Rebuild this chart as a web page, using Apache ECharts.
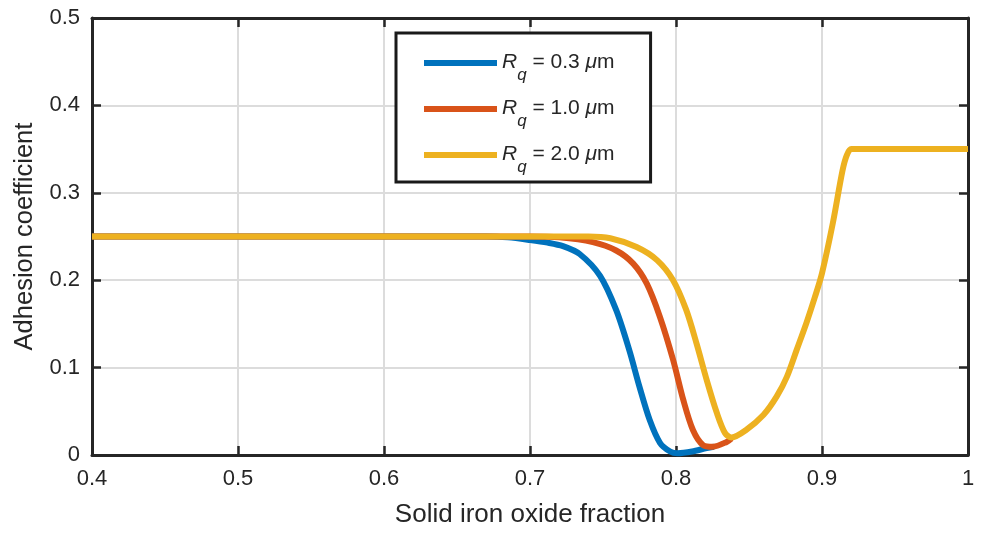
<!DOCTYPE html>
<html>
<head>
<meta charset="utf-8">
<script src="https://cdn.jsdelivr.net/npm/echarts@6/dist/echarts.min.js"></script>
<style>html,body{margin:0;padding:0;background:#fff;}#c{width:988px;height:533px;}</style>
</head>
<body>
<div id="c"></div>
<script>
var xTicks = [0.4, 0.5, 0.6, 0.7, 0.8, 0.9, 1.0];
var yTicks = [0, 0.1, 0.2, 0.3, 0.4, 0.5];
var seriesNames = ['Rq = 0.3 μm', 'Rq = 1.0 μm', 'Rq = 2.0 μm'];
var rqValues = ['0.3', '1.0', '2.0'];

var blueX = [0.40, 0.50, 0.60, 0.65, 0.67, 0.685, 0.70, 0.712, 0.7226, 0.734, 0.748, 0.759, 0.768, 0.775, 0.782, 0.789, 0.796, 0.801, 0.811, 0.821, 0.826];
var blueY = [0.25, 0.25, 0.25, 0.25, 0.25, 0.249, 0.246, 0.243, 0.239, 0.230, 0.205, 0.166, 0.120, 0.078, 0.040, 0.014, 0.004, 0.002, 0.004, 0.008, 0.0095];

var orangeX = [0.40, 0.50, 0.60, 0.65, 0.70, 0.72, 0.743, 0.759, 0.7707, 0.78, 0.789, 0.798, 0.805, 0.8116, 0.8185, 0.8253, 0.8347, 0.838];
var orangeY = [0.25, 0.25, 0.25, 0.25, 0.25, 0.249, 0.2435, 0.234, 0.219, 0.196, 0.158, 0.109, 0.063, 0.0286, 0.0114, 0.0095, 0.015, 0.019];

var yellowX = [0.40, 0.50, 0.60, 0.65, 0.70, 0.74, 0.755, 0.773, 0.787, 0.798, 0.807, 0.814, 0.821, 0.828, 0.8336, 0.838, 0.848, 0.860, 0.869, 0.876, 0.8826, 0.8895, 0.895, 0.900, 0.9075, 0.914, 0.917, 0.920, 0.94, 0.96, 0.98, 1.0];
var yellowY = [0.25, 0.25, 0.25, 0.25, 0.25, 0.25, 0.248, 0.238, 0.223, 0.200, 0.166, 0.128, 0.086, 0.048, 0.025, 0.020, 0.0286, 0.046, 0.067, 0.0896, 0.120, 0.152, 0.180, 0.208, 0.266, 0.325, 0.343, 0.35, 0.35, 0.35, 0.35, 0.35];

var colors = ['#0072BD', '#D95319', '#EDB120'];

function zip(a, b) { return a.map(function (v, i) { return [v, b[i]]; }); }

var chart = echarts.init(document.getElementById('c'), null, { renderer: 'canvas' });
var font = 'Liberation Sans, Arial, Helvetica, sans-serif';
var axisColor = '#262626';
var gridStyle = { show: true, lineStyle: { color: '#dcdcdc', width: 2 } };
var tickStyle = { show: true, inside: true, length: 9, lineStyle: { color: axisColor, width: 2.5 } };
var lineStyleAxis = { show: true, onZero: false, lineStyle: { color: axisColor, width: 3 } };

var seriesData = [zip(blueX, blueY), zip(orangeX, orangeY), zip(yellowX, yellowY)];

function fmt(list) {
  return function (v) {
    var t = list.filter(function (k) { return Math.abs(k - v) < 1e-9; })[0];
    return (t === 0 || t === 1) ? String(t) : t.toFixed(1);
  };
}

var richBase = { color: axisColor, fontFamily: font, lineHeight: 32 };
function rs(extra) { var o = {}; for (var k in richBase) o[k] = richBase[k]; for (var j in extra) o[j] = extra[j]; return o; }

chart.setOption({
  animation: false,
  backgroundColor: '#fff',
  textStyle: { fontFamily: font },
  grid: { left: 92, right: 20, top: 18, bottom: 78, containLabel: false },
  xAxis: [{
    type: 'value', min: 0.4, max: 1.0, interval: 0.1, position: 'bottom',
    name: 'Solid iron oxide fraction', nameLocation: 'middle', nameGap: 47,
    nameTextStyle: { fontSize: 26, color: axisColor, fontFamily: font },
    axisLine: lineStyleAxis, axisTick: tickStyle,
    axisLabel: { fontSize: 22, color: axisColor, margin: 13, fontFamily: font, formatter: fmt(xTicks) },
    splitLine: gridStyle
  }, {
    type: 'value', min: 0.4, max: 1.0, interval: 0.1, position: 'top',
    axisLine: lineStyleAxis, axisTick: tickStyle,
    axisLabel: { show: false }, splitLine: { show: false }
  }],
  yAxis: [{
    type: 'value', min: 0, max: 0.5, interval: 0.1, position: 'left',
    name: 'Adhesion coefficient', nameLocation: 'middle', nameGap: 54, nameRotate: 90,
    nameTextStyle: { fontSize: 25.5, color: axisColor, fontFamily: font },
    axisLine: lineStyleAxis, axisTick: tickStyle,
    axisLabel: { fontSize: 22, color: axisColor, margin: 12, fontFamily: font, formatter: fmt(yTicks) },
    splitLine: gridStyle
  }, {
    type: 'value', min: 0, max: 0.5, interval: 0.1, position: 'right',
    axisLine: lineStyleAxis, axisTick: tickStyle,
    axisLabel: { show: false }, splitLine: { show: false }
  }],
  legend: {
    orient: 'vertical', left: 396, top: 33,
    data: seriesNames,
    icon: 'rect', itemWidth: 73, itemHeight: 6, itemGap: 14,
    padding: [19, 36, 6, 28],
    borderColor: '#1a1a1a', borderWidth: 3, backgroundColor: '#fff',
    selectedMode: false,
    formatter: function (name) {
      var i = seriesNames.indexOf(name);
      return '{r|R}{q|q}{t| = ' + rqValues[i] + ' }{m|μ}{t|m}';
    },
    textStyle: {
      fontFamily: font, fontSize: 21, color: axisColor, padding: [10, 0, 0, 0],
      rich: {
        r: rs({ fontStyle: 'italic', fontSize: 21, verticalAlign: 'top' }),
        q: rs({ fontStyle: 'italic', fontSize: 17, verticalAlign: 'bottom' }),
        t: rs({ fontSize: 21, verticalAlign: 'top' }),
        m: rs({ fontStyle: 'italic', fontSize: 21, verticalAlign: 'top' })
      }
    }
  },
  series: seriesData.map(function (d, i) {
    return {
      name: seriesNames[i], type: 'line', data: d,
      xAxisIndex: 0, yAxisIndex: 0,
      showSymbol: false, symbol: 'none',
      smooth: 0.3,
      lineStyle: { color: colors[i], width: 6 },
      itemStyle: { color: colors[i] },
      z: 2 + i
    };
  })
});
</script>
</body>
</html>
